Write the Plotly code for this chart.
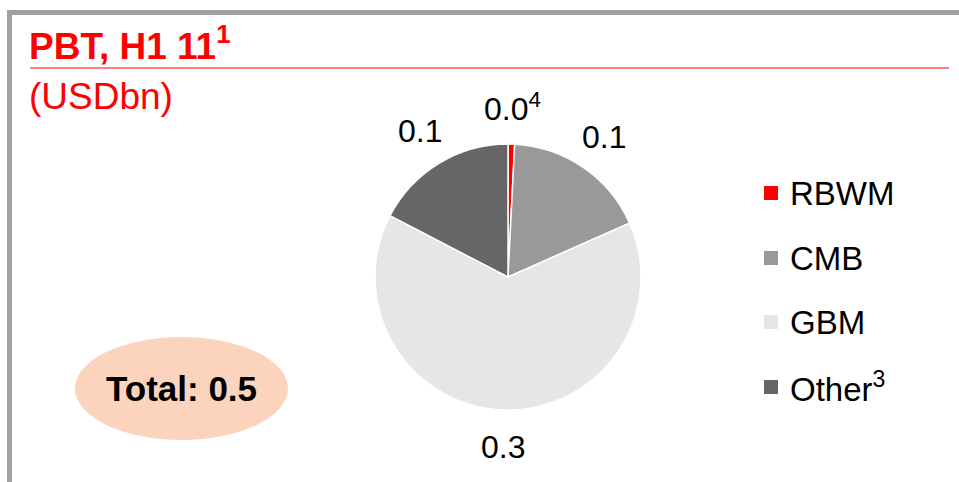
import math
import plotly.graph_objects as go

# ---- data ----
segments = ["RBWM", "CMB", "GBM", "Other"]
values = [0.004, 0.088, 0.322, 0.087]
value_labels = ["0.0<sup>4</sup>", "0.1", "0.3", "0.1"]
legend_labels = ["RBWM", "CMB", "GBM", "Other<sup>3</sup>"]
colors = ["#ff0000", "#999999", "#e6e6e6", "#666666"]
title_text = "PBT, H1 11<sup>1</sup>"
unit_text = "(USDbn)"
total_text = "Total: 0.5"

W, H = 959, 482
FONT = "Liberation Sans, Arial, sans-serif"

# pie placement (pixels)
cx, cy, r = 508, 277, 133


def px(x):
    return x / W


def py(y):
    return 1 - y / H


fig = go.Figure()
fig.add_trace(go.Pie(
    labels=segments,
    values=values,
    marker=dict(colors=colors, line=dict(color="white", width=1.5)),
    sort=False,
    direction="clockwise",
    rotation=0,
    textinfo="none",
    hoverinfo="label+value",
    showlegend=False,
    domain=dict(x=[px(cx - r), px(cx + r)], y=[py(cy + r), py(cy - r)]),
))

annotations = []
# value labels placed radially outside each slice
total = sum(values)
cum = 0.0
for v, lab in zip(values, value_labels):
    mid = (cum + v / 2) / total
    cum += v
    ang = 2 * math.pi * mid
    dist = r * 1.28
    lx = cx + dist * math.sin(ang)
    ly = cy - dist * math.cos(ang)
    annotations.append(dict(
        x=px(lx), y=py(ly), xref="paper", yref="paper", text=lab,
        showarrow=False, xanchor="center", yanchor="middle",
        font=dict(family=FONT, size=32, color="black"),
    ))

# title & unit
annotations.append(dict(
    x=px(27), y=py(43), xref="paper", yref="paper", text="<b>" + title_text + "</b>",
    showarrow=False, xanchor="left", yanchor="middle",
    font=dict(family=FONT, size=37, color="#ff0000"),
))
annotations.append(dict(
    x=px(27), y=py(97), xref="paper", yref="paper", text=unit_text,
    showarrow=False, xanchor="left", yanchor="middle",
    font=dict(family=FONT, size=37, color="#ff0000"),
))

# total bubble text
annotations.append(dict(
    x=px(181), y=py(388), xref="paper", yref="paper", text="<b>" + total_text + "</b>",
    showarrow=False, xanchor="center", yanchor="middle",
    font=dict(family=FONT, size=35, color="black"),
))

shapes = [
    # frame
    dict(type="line", xref="paper", yref="paper", x0=px(7), x1=1, y0=py(12.5), y1=py(12.5),
         line=dict(color="#a0a0a0", width=5)),
    dict(type="line", xref="paper", yref="paper", x0=px(9.5), x1=px(9.5), y0=py(10), y1=0,
         line=dict(color="#a0a0a0", width=5)),
    # red rule under title
    dict(type="line", xref="paper", yref="paper", x0=px(30), x1=px(949), y0=py(68), y1=py(68),
         line=dict(color="#ff8080", width=2)),
    # total ellipse
    dict(type="circle", xref="paper", yref="paper", x0=px(75), x1=px(288), y0=py(440), y1=py(337),
         fillcolor="#fcd3bd", line=dict(width=0), layer="below"),
]

# manual legend
leg_y = [193, 258, 322, 387]
for name, col, yy in zip(legend_labels, colors, leg_y):
    shapes.append(dict(type="rect", xref="paper", yref="paper",
                       x0=px(764), x1=px(778), y0=py(yy + 7), y1=py(yy - 7),
                       fillcolor=col, line=dict(width=0)))
    annotations.append(dict(
        x=px(788), y=py(yy), xref="paper", yref="paper", text=name,
        showarrow=False, xanchor="left", yanchor="middle",
        font=dict(family=FONT, size=33, color="black"),
    ))

fig.update_layout(
    width=W, height=H,
    margin=dict(l=0, r=0, t=0, b=0),
    paper_bgcolor="white", plot_bgcolor="white",
    annotations=annotations, shapes=shapes,
    showlegend=False,
)

fig.write_html("out.html")
